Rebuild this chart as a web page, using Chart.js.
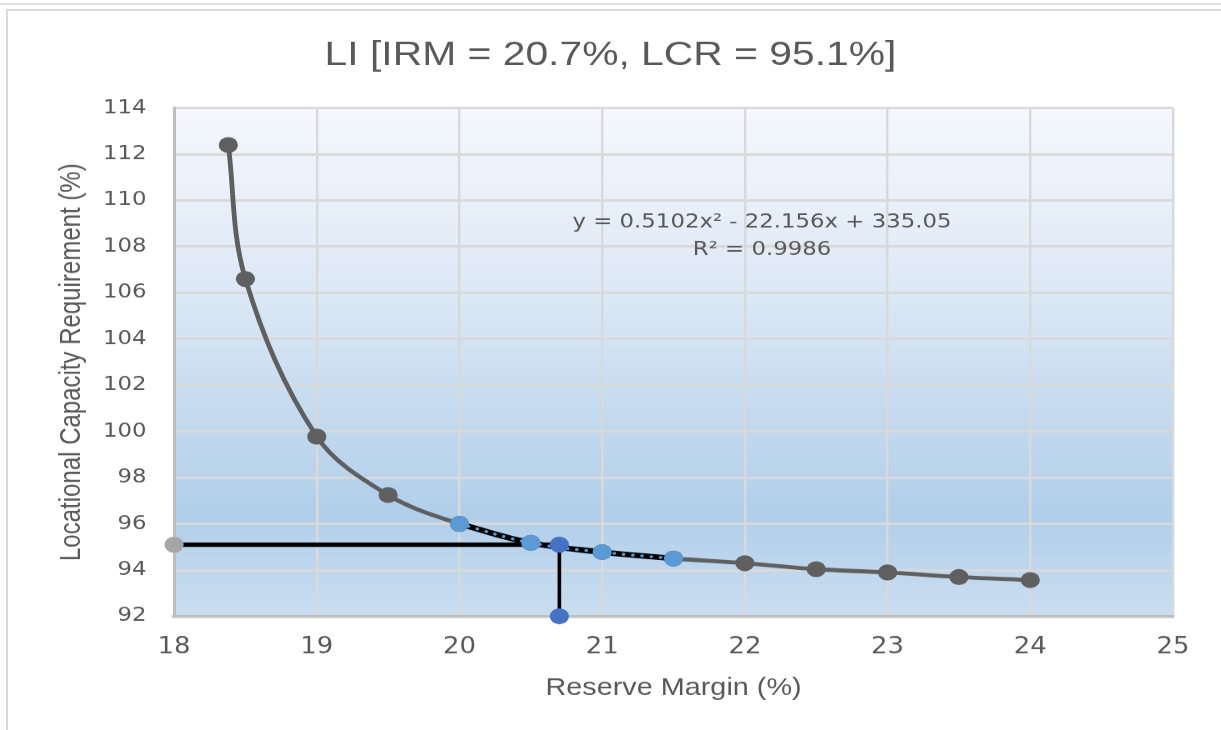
<!DOCTYPE html>
<html>
<head>
<meta charset="utf-8">
<script src="https://cdn.jsdelivr.net/npm/chart.js@4.4.1/dist/chart.umd.min.js"></script>
<style>
  html, body { margin: 0; padding: 0; background: #fff; }
  #wrap { position: relative; width: 1221px; height: 730px; overflow: hidden; }
  .rule { position: absolute; left: 0; right: 0; top: 3px; height: 2px; background: #e1e1e1; }
  .panel { position: absolute; left: 6px; top: 9px; right: -4px; bottom: -4px;
           border-top: 2px solid #dadada; border-left: 2px solid #dadada; }
  #lcrChart { position: absolute; left: 0; top: 0; }
</style>
</head>
<body>
<div id="wrap">
  <div class="rule"></div>
  <div class="panel"></div>
  <canvas id="lcrChart" width="1017" height="730" style="width:1221px;height:730px"></canvas>
</div>
<script>
// ===== 資料 =====
const chartTitle = "LI [IRM = 20.7%, LCR = 95.1%]";
const xAxisTitle = "Reserve Margin (%)";
const yAxisTitle = "Locational Capacity Requirement (%)";

// reserve margin (%) vs locational capacity requirement (%)
const reserveMargin = [18.38, 18.5, 19, 19.5, 20, 20.5, 21, 21.5, 22, 22.5, 23, 23.5, 24];
const lcrValues = [112.4, 106.6, 99.78, 97.25, 96.0, 95.18, 94.78, 94.5, 94.3, 94.04, 93.9, 93.7, 93.57];

// points used for the polynomial fit
const fitMargin = [20, 20.5, 21, 21.5];
const fitLcr = [96.0, 95.18, 94.78, 94.5];
const fitText = ["y = 0.5102x\u00B2 - 22.156x + 335.05", "R\u00B2 = 0.9986"];

// chosen point
const irm = 20.7;
const lcr = 95.1;

// axis ranges / ticks
const xTickRange = [18, 25];
const xTickStep = 1;
const yTickRange = [92, 114];
const yTickStep = 2;

// ===== 樣式 =====
// the reference is stretched sideways, so draw at a narrower logical width
const STRETCH = 1221 / 1017 + 1e-6;
const GRAY_TEXT = "#595959";
const NARROW = '"Liberation Sans Narrow", "Arial Narrow", "DejaVu Sans Condensed", sans-serif';
const SANS = '"Liberation Sans", Arial, sans-serif';
const WIDE = '"DejaVu Sans", Verdana, sans-serif';

const toPts = (xs, ys) => xs.map((x, i) => ({ x, y: ys[i] }));

// plot area gradient
const plotFill = {
  id: "plotFill",
  beforeDraw(chart) {
    const { ctx, chartArea: a } = chart;
    const g = ctx.createLinearGradient(0, a.top, 0, a.bottom);
    g.addColorStop(0, "#f5f8fd");
    g.addColorStop(0.35, "#dde9f6");
    g.addColorStop(0.8, "#b1cfea");
    g.addColorStop(1, "#cadef1");
    ctx.save();
    ctx.fillStyle = g;
    ctx.fillRect(a.left, a.top, a.right - a.left, a.bottom - a.top);
    ctx.restore();
  },
};

// trend line equation text
const fitLabel = {
  id: "fitLabel",
  afterDraw(chart, args, opts) {
    const { ctx, scales } = chart;
    const cx = scales.x.getPixelForValue(opts.x);
    const cy = scales.y.getPixelForValue(opts.y);
    ctx.save();
    ctx.font = `19px ${WIDE}`;
    ctx.fillStyle = GRAY_TEXT;
    ctx.textAlign = "center";
    ctx.textBaseline = "middle";
    opts.lines.forEach((t, i) => ctx.fillText(t, cx, cy + i * opts.gap));
    ctx.restore();
  },
};

const canvas = document.getElementById("lcrChart");

new Chart(canvas, {
  type: "scatter",
  data: {
    datasets: [
      {
        // vertical drop line at IRM
        data: [{ x: irm, y: lcr }, { x: irm, y: yTickRange[0] }],
        showLine: true,
        borderColor: "#000",
        borderWidth: 3,
        pointRadius: 8,
        pointBackgroundColor: "#4472c4",
        pointBorderWidth: 0,
        clip: false,
      },
      {
        data: toPts(fitMargin, fitLcr),
        showLine: false,
        pointRadius: 8,
        pointBackgroundColor: "#5b9bd5",
        pointBorderWidth: 0,
      },
      {
        // dotted trendline
        data: toPts(fitMargin, fitLcr),
        showLine: true,
        borderColor: "#5b9bd5",
        borderWidth: 3,
        borderDash: [0.1, 7.7],
        borderCapStyle: "round",
        tension: 0.4,
        pointRadius: 0,
      },
      {
        data: toPts(fitMargin, fitLcr),
        showLine: true,
        borderColor: "#000",
        borderWidth: 5.5,
        tension: 0.4,
        pointRadius: 0,
      },
      {
        // horizontal line at LCR
        data: [{ x: xTickRange[0], y: lcr }, { x: irm, y: lcr }],
        showLine: true,
        borderColor: "#000",
        borderWidth: 4.5,
        pointRadius: [8, 0],
        pointBackgroundColor: "#a5a5a5",
        pointBorderWidth: 0,
        clip: false,
      },
      {
        data: toPts(reserveMargin, lcrValues),
        showLine: true,
        borderColor: "#5f5f5f",
        borderWidth: 4,
        tension: 0.35,
        pointRadius: 8,
        pointBackgroundColor: "#5f5f5f",
        pointBorderWidth: 0,
      },
    ],
  },
  options: {
    responsive: false,
    animation: false,
    devicePixelRatio: STRETCH,
    events: [],
    layout: { padding: 0 },
    plugins: {
      legend: { display: false },
      tooltip: { enabled: false },
      title: {
        display: true,
        text: chartTitle,
        color: GRAY_TEXT,
        font: { family: SANS, size: 34, weight: "normal" },
        padding: { top: 35.6, bottom: 31.6 },
      },
      fitLabel: { x: 22.12, y: 109.06, gap: 28, lines: fitText },
    },
    scales: {
      x: {
        type: "linear",
        min: xTickRange[0],
        max: xTickRange[1],
        ticks: {
          stepSize: xTickStep,
          padding: 16,
          color: GRAY_TEXT,
          font: { family: NARROW, size: 24 },
        },
        grid: { color: "#d9d9d9", lineWidth: 2, drawTicks: false },
        border: { color: "#bfbfbf", width: 3 },
        title: {
          display: true,
          text: xAxisTitle,
          color: GRAY_TEXT,
          font: { family: SANS, size: 24 },
          padding: { top: 0, bottom: 27.6 },
        },
        afterFit: (s) => { s.height = 114; },
      },
      y: {
        min: yTickRange[0],
        max: yTickRange[1],
        ticks: {
          stepSize: yTickStep,
          padding: 23,
          color: GRAY_TEXT,
          font: { family: WIDE, size: 19 },
        },
        grid: { color: "#d9d9d9", lineWidth: 2.5, drawTicks: false },
        border: { color: "#bfbfbf", width: 2.5 },
        title: {
          display: true,
          text: yAxisTitle,
          color: GRAY_TEXT,
          font: { family: SANS, size: 24 },
          padding: { top: 45.6, bottom: 0 },
        },
        afterFit: (s) => { s.width = 145; },
      },
      // empty right-hand box so the plot ends where the reference does
      yRight: {
        position: "right",
        display: true,
        grid: { display: false },
        border: { display: false },
        ticks: { display: false },
        afterFit: (s) => { s.width = 40; },
      },
    },
  },
  plugins: [plotFill, fitLabel],
});
</script>
</body>
</html>
